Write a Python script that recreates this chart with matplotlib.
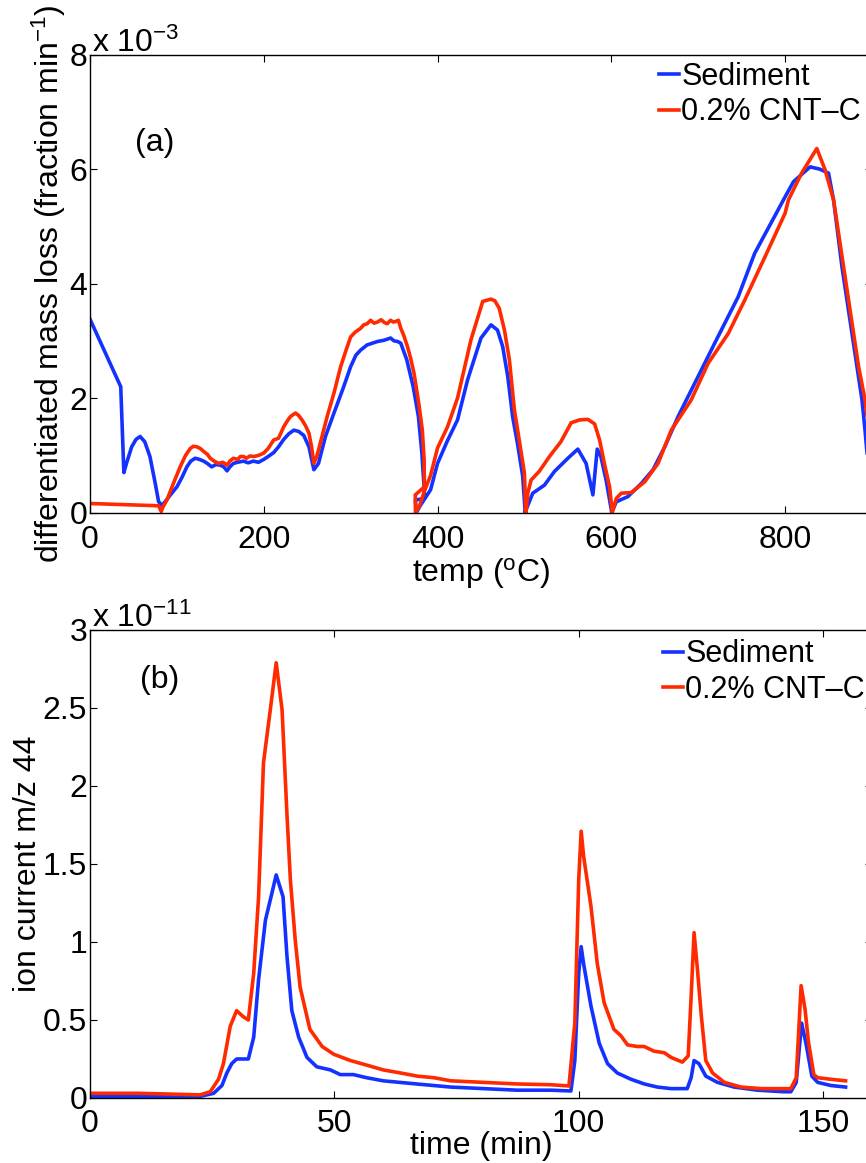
"""TGA derivative mass loss and m/z 44 ion current, sediment vs 0.2% CNT-C."""
import matplotlib

matplotlib.use("Agg")
import matplotlib.pyplot as plt

# --------------------------------------------------------------------------- #
# data                                                    #
# --------------------------------------------------------------------------- #
# (a) differentiated mass loss, x 10^-3 fraction/min, vs temperature (C)
sed_temp = [0, 35.4, 39, 42, 48, 53, 57.7, 63, 69, 75,
            79, 82.7, 86.5, 92, 100, 106, 111.5, 116, 121, 126,
            130.8, 135, 140, 145, 150, 154, 157.7, 161, 165, 170,
            176.7, 182, 188, 194, 200, 205, 211.5, 217, 223, 229,
            234.6, 240, 246, 252, 257.7, 263, 271, 280.8, 292, 300,
            306, 311.5, 319, 325, 331, 338, 346, 350, 354, 357.7,
            364.6, 372, 378, 382, 384.5, 385, 374.5, 375.5, 380, 392,
            400, 411.5, 423, 434.6, 450, 461.5, 469, 475, 480.8, 486.5,
            492, 498, 500.8, 500.5, 509.6, 523, 534.6, 550, 561.5, 571,
            578.8, 583.8, 588, 594, 600, 600.3, 605.8, 619, 634.6, 648,
            661.5, 676.9, 696, 719, 746, 765, 792, 798, 809.6, 828.8,
            840, 850, 855.8, 865.4, 877, 888.5, 892, 895, 900]
sed_dm = [3.38, 2.20, 0.70, 0.86, 1.15, 1.28, 1.33, 1.24, 0.98, 0.52,
          0.19, 0.13, 0.19, 0.30, 0.45, 0.62, 0.80, 0.90, 0.95, 0.93,
          0.90, 0.86, 0.80, 0.84, 0.83, 0.80, 0.73, 0.80, 0.86, 0.88,
          0.90, 0.87, 0.90, 0.88, 0.93, 0.98, 1.05, 1.15, 1.28, 1.38,
          1.44, 1.42, 1.35, 1.15, 0.75, 0.86, 1.33, 1.74, 2.20, 2.55,
          2.75, 2.84, 2.93, 2.96, 2.99, 3.01, 3.05, 3.00, 2.99, 2.96,
          2.67, 2.20, 1.68, 1.04, 0.45, 0.25, 0.22, 0.0, 0.12, 0.40,
          0.86, 1.26, 1.62, 2.32, 3.05, 3.28, 3.19, 2.90, 2.38, 1.67,
          1.21, 0.64, 0.03, 0.0, 0.34, 0.48, 0.72, 0.95, 1.11, 0.86,
          0.31, 1.11, 0.98, 0.57, 0.05, 0.0, 0.19, 0.28, 0.51, 0.75,
          1.15, 1.68, 2.26, 2.96, 3.77, 4.53, 5.29, 5.46, 5.78, 6.04,
          6.00, 5.93, 5.46, 4.30, 3.13, 1.97, 1.44, 0.92, 0.30]

cnt_temp = [0, 79, 82, 84, 88.5, 96, 103.8, 110, 115.4, 119,
            123, 127, 130.8, 135, 138.5, 143, 148, 153, 157.7, 161,
            165, 170, 173, 176.9, 180, 184, 188.5, 194, 200, 205,
            211.5, 217, 223, 227, 230.8, 236.5, 240, 244, 248, 252,
            255, 257.7, 261, 265, 273, 280.8, 288.5, 295, 300, 305,
            311.5, 315, 319, 323, 327, 331, 335, 339, 342, 346,
            349, 352, 355, 357.7, 361, 365.4, 369, 373, 378.5, 382.5,
            384.6, 384.8, 374.4, 374.6, 376.5, 380, 385, 392, 400, 411.5,
            423, 438.5, 452, 461.5, 466, 471, 477, 482.7, 488.5, 494,
            500, 501.5, 501.8, 504, 507.7, 517, 528.8, 542, 553.8, 563.5,
            573, 580.8, 586.5, 592, 598, 600.8, 601, 605.8, 611.5, 623,
            638.5, 653.8, 669, 692, 711.5, 734.6, 753.8, 776.9, 800, 803.8,
            819, 836.5, 846, 855.8, 861.5, 873, 884.6, 892, 900]
cnt_dm = [0.16, 0.12, 0.02, 0.10, 0.22, 0.51, 0.80, 1.00, 1.12, 1.16,
          1.15, 1.12, 1.07, 1.02, 0.95, 0.90, 0.86, 0.88, 0.83, 0.90,
          0.95, 0.93, 0.98, 0.98, 0.95, 0.99, 0.98, 1.00, 1.04, 1.12,
          1.27, 1.30, 1.50, 1.60, 1.68, 1.74, 1.70, 1.62, 1.52, 1.39,
          1.15, 0.86, 0.98, 1.21, 1.68, 2.09, 2.55, 2.85, 3.07, 3.15,
          3.22, 3.28, 3.30, 3.36, 3.31, 3.33, 3.37, 3.32, 3.30, 3.36,
          3.33, 3.34, 3.36, 3.22, 3.10, 2.90, 2.70, 2.43, 1.90, 1.44,
          0.92, 0.45, 0.31, 0.0, 0.05, 0.15, 0.38, 0.65, 1.13, 1.50,
          2.00, 3.02, 3.69, 3.73, 3.70, 3.57, 3.19, 2.67, 1.79, 1.27,
          0.69, 0.05, 0.0, 0.35, 0.57, 0.72, 0.98, 1.24, 1.57, 1.62,
          1.63, 1.55, 1.27, 0.86, 0.45, 0.05, 0.0, 0.25, 0.34, 0.35,
          0.54, 0.86, 1.44, 1.97, 2.61, 3.13, 3.72, 4.47, 5.23, 5.46,
          5.93, 6.36, 5.99, 5.46, 4.88, 3.72, 2.55, 1.97, 1.00]

# (b) ion current m/z 44, x 10^-11, vs time (min)
sed_time = [0, 10, 22.5, 25.3, 27, 28, 29, 30, 32.4, 33.5,
            34.5, 35.9, 37.2, 38.1, 39.5, 40.3, 41.3, 42.7, 44.4, 46.4,
            49.2, 51.2, 53.9, 56.6, 60, 63.4, 66.8, 70.3, 73.8, 80.6,
            87.4, 94.3, 98.4, 99.2, 100, 100.5, 101, 102.5, 104.2, 105.9,
            107.9, 110.7, 113.4, 116.1, 118.9, 122.2, 123, 123.6, 124.6, 126,
            128.4, 131.8, 136.6, 142, 143.4, 144.5, 145.6, 146.5, 147.7, 148.9,
            151.6, 154.6]
sed_ion = [0.01, 0.01, 0.01, 0.03, 0.08, 0.16, 0.22, 0.25, 0.25, 0.39,
           0.76, 1.14, 1.31, 1.43, 1.29, 0.91, 0.56, 0.39, 0.26, 0.20,
           0.18, 0.15, 0.15, 0.13, 0.11, 0.10, 0.09, 0.08, 0.07, 0.06,
           0.05, 0.05, 0.045, 0.24, 0.80, 0.97, 0.86, 0.59, 0.35, 0.22,
           0.16, 0.12, 0.09, 0.07, 0.06, 0.06, 0.13, 0.24, 0.22, 0.14,
           0.10, 0.07, 0.05, 0.04, 0.04, 0.10, 0.48, 0.35, 0.14, 0.10,
           0.08, 0.07]

cnt_time = [0, 10, 22.5, 24.6, 26.3, 27.3, 28.7, 30, 31.4, 32.4,
            33.5, 34.5, 35.5, 36.9, 38.1, 39.3, 40.3, 41, 42, 43,
            45, 47.5, 49.9, 53.3, 56.7, 60, 63.6, 67, 70.4, 73.8,
            80.6, 87.4, 94.3, 98, 99.2, 100, 100.5, 101, 102.5, 103.8,
            105.2, 107.2, 108.6, 110, 112, 113.4, 115.4, 117.5, 118.9, 121.2,
            122.4, 123, 123.6, 124.3, 125.1, 126, 127.4, 129.8, 133.2, 137.4,
            142, 143.4, 144.5, 145.5, 146.3, 147, 148.1, 148.9, 151.6, 154.6]
cnt_ion = [0.03, 0.03, 0.02, 0.04, 0.12, 0.22, 0.46, 0.56, 0.52, 0.50,
           0.80, 1.29, 2.15, 2.49, 2.79, 2.49, 1.82, 1.40, 1.01, 0.71,
           0.44, 0.33, 0.28, 0.24, 0.21, 0.18, 0.16, 0.14, 0.13, 0.11,
           0.10, 0.09, 0.085, 0.077, 0.48, 1.40, 1.71, 1.55, 1.23, 0.86,
           0.61, 0.44, 0.40, 0.34, 0.33, 0.33, 0.30, 0.29, 0.26, 0.23,
           0.27, 0.65, 1.06, 0.82, 0.52, 0.24, 0.16, 0.10, 0.07, 0.06,
           0.06, 0.06, 0.13, 0.72, 0.57, 0.36, 0.15, 0.13, 0.12, 0.11]

labels = ["Sediment", "0.2% CNT\u2013C"]
temp_ticks = [0, 200, 400, 600, 800]
dm_ticks = [0, 2, 4, 6, 8]
time_ticks = [0, 50, 100, 150]
ion_ticks = [0, 0.5, 1, 1.5, 2, 2.5, 3]
ion_ticklabels = ["0", "0.5", "1", "1.5", "2", "2.5", "3"]

BLUE = "#1432ff"
RED = "#ff2a00"
FS = 23
LEG_FS = 22

plt.rcParams["font.family"] = ["Liberation Sans", "DejaVu Sans"]
plt.rcParams["mathtext.fontset"] = "custom"
plt.rcParams["mathtext.rm"] = "Liberation Sans"
plt.rcParams["mathtext.it"] = "Liberation Sans:italic"
plt.rcParams["mathtext.bf"] = "Liberation Sans:bold"

fig = plt.figure(figsize=(8.66, 11.63), dpi=100)
# right spine sits just past the picture edge, as in the cropped original
ax1 = fig.add_axes([0.1039, 0.5592, 0.9030, 0.3938])
ax2 = fig.add_axes([0.1039, 0.0559, 0.9030, 0.4024])


def _style(ax, xpad):
    ax.tick_params(direction="in", top=True, right=True, length=5,
                   width=0.8, labelsize=FS)
    ax.tick_params(axis="x", pad=xpad)
    ax.tick_params(axis="y", pad=2)
    for sp in ax.spines.values():
        sp.set_linewidth(1.0)


def _legend(ax, anchor):
    ax.legend(loc="upper left", bbox_to_anchor=anchor, frameon=False,
              fontsize=LEG_FS, handlelength=0.65, handletextpad=0.07,
              labelspacing=0.18, borderpad=0, borderaxespad=0)


# ---- (a) ----
ax1.plot(sed_temp, sed_dm, color=BLUE, lw=2.6, label=labels[0])
ax1.plot(cnt_temp, cnt_dm, color=RED, lw=2.6, label=labels[1])
ax1.set_xlim(0, 900)
ax1.set_ylim(0, 8)
ax1.set_xticks(temp_ticks)
ax1.set_yticks(dm_ticks)
_style(ax1, 9)
ax1.set_xlabel(r"temp ($^{\rm o}$C)", fontsize=FS, va="top")
ax1.xaxis.set_label_coords(0.5, -0.095)
ax1.set_ylabel(r"differentiated mass loss (fraction min$^{-1}$)", fontsize=FS)
ax1.yaxis.set_label_coords(-0.028, 0.50)
ax1.text(0.003, 1.006, r"x 10$^{-3}$", transform=ax1.transAxes,
         fontsize=FS, ha="left", va="baseline")
ax1.text(0.058, 0.807, "(a)", transform=ax1.transAxes, fontsize=FS,
         ha="left", va="center")
_legend(ax1, (0.728, 0.984))

# ---- (b) ----
ax2.plot(sed_time, sed_ion, color=BLUE, lw=2.6, label=labels[0])
ax2.plot(cnt_time, cnt_ion, color=RED, lw=2.6, label=labels[1])
ax2.set_xlim(0, 160)
ax2.set_ylim(0, 3)
ax2.set_xticks(time_ticks)
ax2.set_yticks(ion_ticks)
ax2.set_yticklabels(ion_ticklabels)
_style(ax2, 8)
ax2.set_xlabel("time (min)", fontsize=FS, va="top")
ax2.xaxis.set_label_coords(0.5, -0.07)
ax2.set_ylabel("ion current m/z 44", fontsize=FS)
ax2.yaxis.set_label_coords(-0.060, 0.5)
ax2.text(0.003, 1.006, r"x 10$^{-11}$", transform=ax2.transAxes,
         fontsize=FS, ha="left", va="baseline")
ax2.text(0.064, 0.893, "(b)", transform=ax2.transAxes, fontsize=FS,
         ha="left", va="center")
_legend(ax2, (0.733, 0.980))

fig.savefig("out.png", dpi=100)
plt.close(fig)
